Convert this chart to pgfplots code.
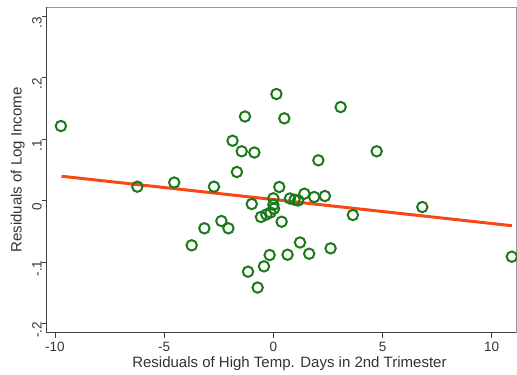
\documentclass[border=0pt]{standalone}
\usepackage{fontspec}
\setmainfont{Liberation Sans}
\usepackage{pgfplots}
\pgfplotsset{compat=1.18}
\definecolor{mkgreen}{RGB}{26,122,26}
\definecolor{fitline}{RGB}{250,72,20}
\begin{document}
\begin{tikzpicture}
\begin{axis}[
  scale only axis, width=469.5pt, height=325.4pt,
  xmin=-10.38, xmax=11.12, ymin=-0.2151, ymax=0.3144,
  axis line style={draw=black!40, line width=0.8pt},
  xtick={-10,-5,0,5,10}, xticklabels={-10,-5,0,5,10},
  ytick={-0.2,-0.1,0,0.1,0.2,0.3}, yticklabels={-.2,-.1,0,.1,.2,.3},
  xtick pos=bottom, ytick pos=left, tick align=outside,
  major tick length=5pt,
  tick style={black!75, line width=0.9pt},
  ticklabel style={font=\fontsize{13.5}{14}\selectfont, text=black!80},
  xticklabel style={anchor=base, yshift=-14pt},
  yticklabel style={rotate=90, anchor=base, xshift=-6.5pt},
  xlabel={Residuals of High Temp. Days in 2nd Trimester},
  ylabel={Residuals of Log Income},
  label style={font=\fontsize{15}{16}\selectfont, text=black!80},
  xlabel style={at={(axis description cs:0.517,-0.108)}, anchor=base},
  ylabel style={at={(axis description cs:-0.0532,0.5)}, anchor=base},
  clip=false,
]
\draw[black!75, line width=0.9pt] (rel axis cs:0,1) -- (rel axis cs:0,0) -- (rel axis cs:1,0);
\addplot[only marks, mark=o, mark size=5.2pt, mark options={draw=mkgreen, line width=2pt}] coordinates {
(-9.73,0.1212) (-6.23,0.0225) (-4.54,0.0293) (-2.72,0.0225) (-3.74,-0.0729)
(-3.16,-0.0452) (-2.38,-0.0334) (-2.06,-0.0452) (-1.87,0.0973) (-1.67,0.0464)
(0.14,0.1733) (-1.30,0.1367) (0.50,0.1337) (-1.45,0.0801) (-0.87,0.0781)
(2.06,0.0654) (3.08,0.1521) (4.73,0.0801) (0.27,0.0220) (-0.99,-0.0057)
(0.00,0.0036) (0.00,-0.0068) (0.03,-0.0133) (-0.13,-0.0195) (-0.32,-0.0228)
(-0.57,-0.0268) (0.38,-0.0345) (0.76,0.0033) (0.97,0.0013) (1.13,0.0)
(1.42,0.0111) (1.87,0.0057) (2.36,0.0073) (3.64,-0.0236) (6.82,-0.0106)
(10.92,-0.0914) (1.22,-0.0683) (1.64,-0.0866) (2.62,-0.0778) (0.65,-0.0882)
(-0.17,-0.0887) (-0.43,-0.1071) (-1.16,-0.1158) (-0.72,-0.1416)
};
\addplot[fitline, line width=3pt] coordinates {(-9.70,0.0395) (10.92,-0.0410)};
\end{axis}
\pgfresetboundingbox
\path[use as bounding box] ([shift={(-46.7pt,-41.3pt)}]current axis.south west) rectangle ([shift={(0.8pt,7.3pt)}]current axis.north east);
\end{tikzpicture}
\end{document}
